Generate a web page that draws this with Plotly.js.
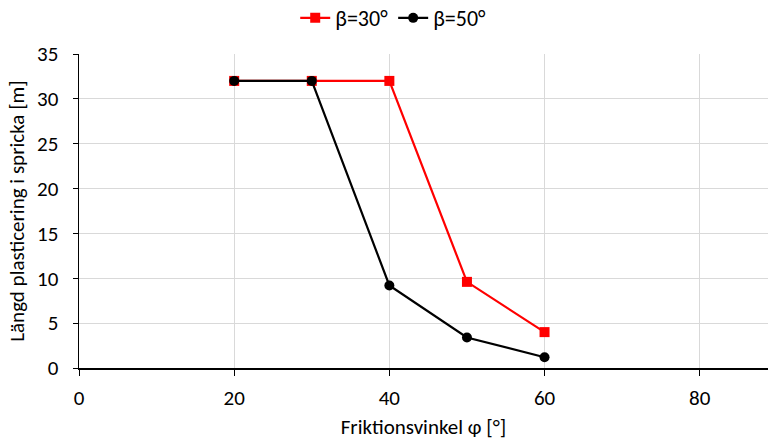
<!DOCTYPE html>
<html>
<head>
<meta charset="utf-8">
<script src="https://cdn.plot.ly/plotly-3.0.1.min.js"></script>
<style>html,body{margin:0;padding:0;background:#fff;}#chart{width:768px;height:440px;}</style>
</head>
<body>
<div id="chart"></div>
<script>
const friction = [20, 30, 40, 50, 60];
const beta30 = [32, 32, 32, 9.6, 4.0];
const beta50 = [32, 32, 9.2, 3.4, 1.2];
const seriesNames = ["β=30°", "β=50°"];
const xTicks = [0, 20, 40, 60, 80];
const yTicks = [0, 5, 10, 15, 20, 25, 30, 35];

const font = "Carlito, Calibri, 'Liberation Sans', sans-serif";

const traces = [
  {x: friction, y: beta30, name: seriesNames[0], type: 'scatter', mode: 'lines+markers',
   line: {color: '#ff0000', width: 2.2}, marker: {symbol: 'square', size: 10, color: '#ff0000'}},
  {x: friction, y: beta50, name: seriesNames[1], type: 'scatter', mode: 'lines+markers',
   line: {color: '#000000', width: 2.2}, marker: {symbol: 'circle', size: 10, color: '#000000'}}
];

const layout = {
  width: 768, height: 440,
  margin: {l: 79, r: 0, t: 54, b: 72, autoexpand: false},
  paper_bgcolor: '#fff', plot_bgcolor: '#fff',
  font: {family: font, size: 21, color: '#000'},
  showlegend: true,
  legend: {orientation: 'h', xref: 'container', yref: 'container', x: 0.512, xanchor: 'center',
           y: 0.959, yanchor: 'middle', font: {family: font, size: 22, color: '#000'},
           traceorder: 'normal', bgcolor: 'rgba(0,0,0,0)'},
  xaxis: {
    range: [0, 88.8], tickvals: xTicks, ticktext: xTicks.map(String),
    showgrid: true, gridcolor: '#d9d9d9', gridwidth: 1,
    zeroline: false, showline: true, linecolor: '#000', linewidth: 2,
    ticks: 'outside', ticklen: 6, tickcolor: '#000', tickwidth: 1,
    ticklabelstandoff: 4,
    tickfont: {family: font, size: 21, color: '#000'},
    title: {text: 'Friktionsvinkel φ [°]', font: {family: font, size: 21, color: '#000'}, standoff: 14}
  },
  yaxis: {
    range: [0, 35], tickvals: yTicks, ticktext: yTicks.map(String),
    showgrid: true, gridcolor: '#d9d9d9', gridwidth: 1,
    zeroline: false, showline: true, linecolor: '#000', linewidth: 1.5,
    ticks: 'outside', ticklen: 5, tickcolor: '#000', tickwidth: 1,
    ticklabelstandoff: 10,
    tickfont: {family: font, size: 21, color: '#000'},
    title: {text: 'Längd plasticering i spricka [m]', font: {family: font, size: 21, color: '#000'}, standoff: 6}
  }
};

Plotly.newPlot('chart', traces, layout, {displayModeBar: false, staticPlot: true});
</script>
</body>
</html>
